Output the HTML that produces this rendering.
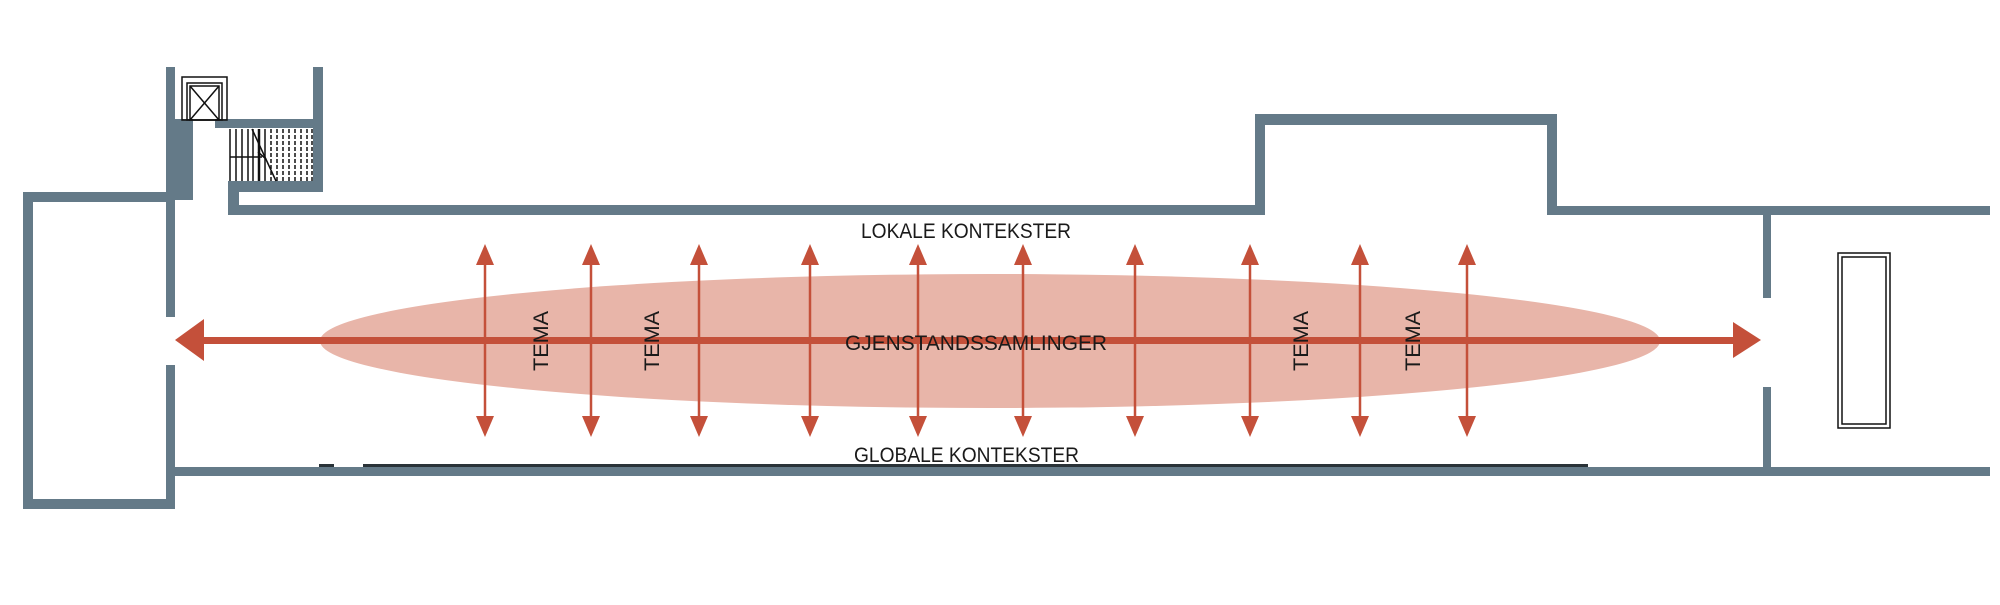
<!DOCTYPE html>
<html><head><meta charset="utf-8"><style>html,body{margin:0;padding:0;background:#fff}svg{display:block}</style></head>
<body>
<svg width="2000" height="605" viewBox="0 0 2000 605" xmlns="http://www.w3.org/2000/svg">
<defs>
<g id="va">
<line x1="0" y1="260" x2="0" y2="420" stroke-width="2.5" stroke="#c4503a"/>
<polygon points="0,244 -9,265 9,265" fill="#c4503a"/>
<polygon points="0,437 -9,416 9,416" fill="#c4503a"/>
</g>
</defs>
<rect width="2000" height="605" fill="#fff"/>
<g fill="#647a88">
<rect x="23" y="192" width="152" height="10"/>
<rect x="23" y="192" width="10" height="317"/>
<rect x="23" y="499" width="152" height="10"/>
<rect x="166" y="67" width="9" height="250"/>
<rect x="166" y="365" width="9" height="144"/>
<rect x="166" y="119" width="27" height="81"/>
<rect x="215" y="119" width="108" height="9"/>
<rect x="313" y="67" width="10" height="125"/>
<rect x="228" y="181" width="95" height="11"/>
<rect x="228" y="181" width="11" height="34"/>
<rect x="228" y="205" width="1035" height="10"/>
<rect x="1255" y="114" width="10" height="101"/>
<rect x="1255" y="114" width="302" height="11"/>
<rect x="1547" y="114" width="10" height="101"/>
<rect x="1547" y="206" width="443" height="9"/>
<rect x="175" y="467" width="1815" height="9"/>
<rect x="1763" y="215" width="8" height="83"/>
<rect x="1763" y="387" width="8" height="85"/>
</g>
<rect x="319" y="464" width="15" height="3" fill="#2a3338"/>
<rect x="363" y="464" width="1225" height="3" fill="#2a3338"/>
<g fill="none" stroke="#111" stroke-width="1.5">
<rect x="182" y="77" width="45" height="43"/>
<rect x="187" y="83" width="35" height="37"/>
<rect x="190" y="86" width="29" height="34"/>
<line x1="190" y1="86" x2="219" y2="120"/>
<line x1="219" y1="86" x2="190" y2="120"/>
</g>
<g stroke="#111" stroke-width="1.5">
<line x1="230" y1="129" x2="230" y2="181"/><line x1="236" y1="129" x2="236" y2="181"/>
<line x1="242" y1="129" x2="242" y2="181"/><line x1="248" y1="129" x2="248" y2="181"/>
<line x1="253" y1="129" x2="253" y2="181"/><line x1="259" y1="129" x2="259" y2="181" stroke-width="2.5"/>
<line x1="265" y1="129" x2="265" y2="181"/><line x1="271" y1="129" x2="271" y2="181" stroke-dasharray="4 2"/>
<line x1="277" y1="129" x2="277" y2="181" stroke-dasharray="4 2"/><line x1="283" y1="129" x2="283" y2="181" stroke-dasharray="4 2"/>
<line x1="289" y1="129" x2="289" y2="181" stroke-dasharray="4 2"/><line x1="295" y1="129" x2="295" y2="181" stroke-dasharray="4 2"/>
<line x1="301" y1="129" x2="301" y2="181" stroke-dasharray="4 2"/><line x1="307" y1="129" x2="307" y2="181" stroke-dasharray="4 2"/>
<line x1="312" y1="129" x2="312" y2="181" stroke-dasharray="4 2"/>
<line x1="230" y1="157" x2="262" y2="157"/>
<line x1="252" y1="129" x2="276" y2="181"/>
<line x1="258" y1="152" x2="266" y2="159"/>
</g>
<rect x="1838" y="253" width="52" height="175" fill="none" stroke="#111" stroke-width="1.5"/>
<rect x="1842" y="257" width="44" height="167" fill="none" stroke="#111" stroke-width="1.5"/>
<ellipse cx="990" cy="341" rx="670" ry="67" fill="#e8b5a9"/>
<g fill="#c4503a">
<rect x="200" y="337" width="1536" height="7"/>
<polygon points="175,340 204,319 204,361"/>
<polygon points="1761,340 1733,322 1733,358"/>
</g>
<use href="#va" x="485"/><use href="#va" x="591"/><use href="#va" x="699"/><use href="#va" x="810"/>
<use href="#va" x="918"/><use href="#va" x="1023"/><use href="#va" x="1135"/><use href="#va" x="1250"/>
<use href="#va" x="1360"/><use href="#va" x="1467"/>
<g font-family="'Liberation Sans Narrow','Liberation Sans',sans-serif" fill="#1a1a1a" font-size="21">
<text x="861" y="238" textLength="210" lengthAdjust="spacingAndGlyphs">LOKALE KONTEKSTER</text>
<text x="854" y="462" textLength="225" lengthAdjust="spacingAndGlyphs">GLOBALE KONTEKSTER</text>
<text x="845" y="350" textLength="262" lengthAdjust="spacingAndGlyphs">GJENSTANDSSAMLINGER</text>
</g>
<g font-family="'Liberation Sans',sans-serif" fill="#1a1a1a" font-size="21" text-anchor="middle">
<text transform="translate(548,341) rotate(-90)" textLength="60" lengthAdjust="spacingAndGlyphs">TEMA</text>
<text transform="translate(659,341) rotate(-90)" textLength="60" lengthAdjust="spacingAndGlyphs">TEMA</text>
<text transform="translate(1308,341) rotate(-90)" textLength="60" lengthAdjust="spacingAndGlyphs">TEMA</text>
<text transform="translate(1420,341) rotate(-90)" textLength="60" lengthAdjust="spacingAndGlyphs">TEMA</text>
</g>
</svg>
</body></html>
